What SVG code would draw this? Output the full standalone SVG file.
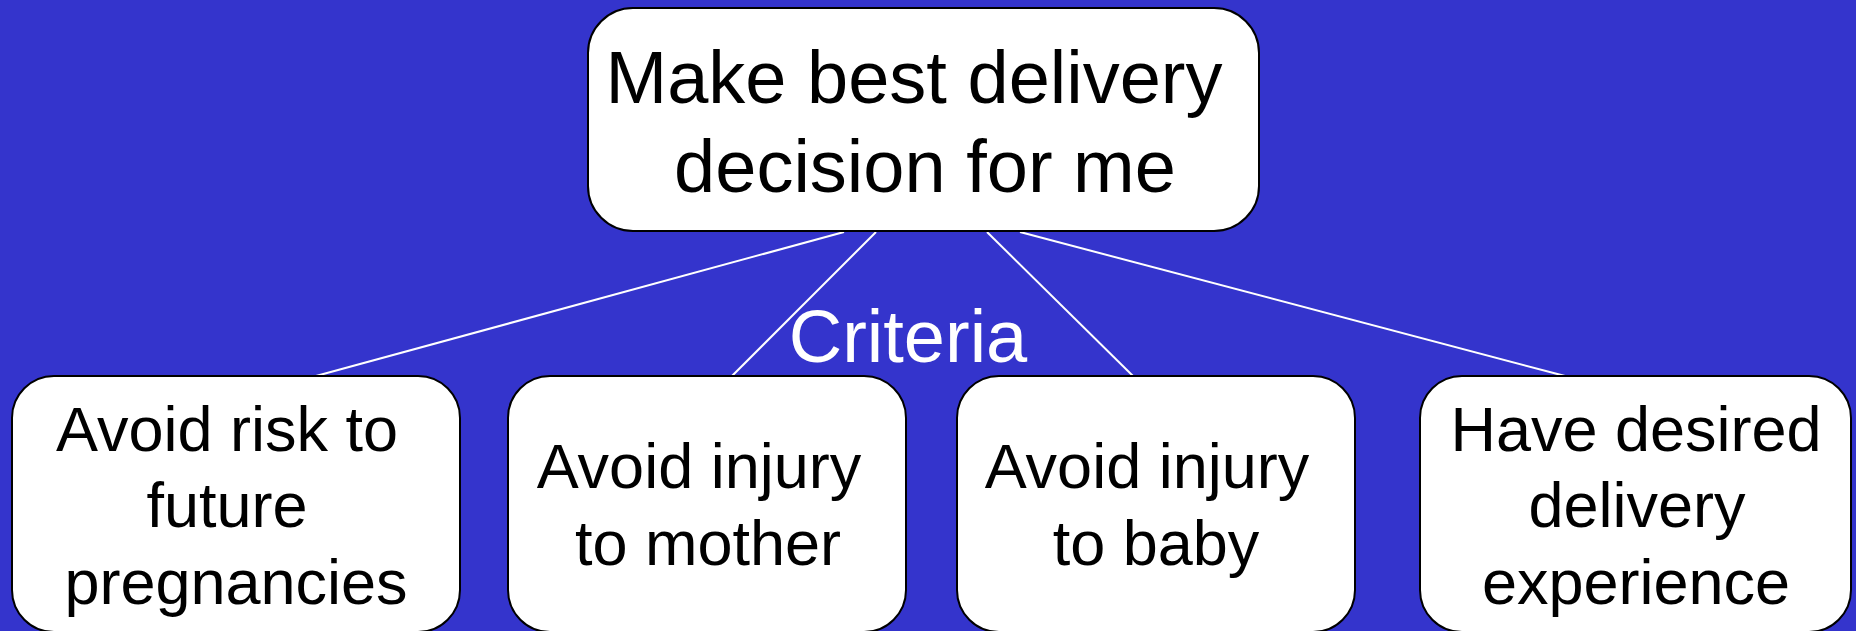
<svg xmlns="http://www.w3.org/2000/svg" width="1856" height="631" viewBox="0 0 1856 631">
  <style>
    .box { fill: #ffffff; stroke: #000000; stroke-width: 2; }
    .label { font-family: "Liberation Sans", Arial, sans-serif; fill: #000000; text-anchor: middle; }
    .top { font-size: 74px; }
    .leaf { font-size: 63px; }
    .link { stroke: #ffffff; stroke-width: 2; fill: none; }
    .caption { font-family: "Liberation Sans", Arial, sans-serif; font-size: 74px; fill: #ffffff; text-anchor: middle; }
  </style>
  <rect x="0" y="0" width="1856" height="631" fill="#3434CC"/>

  <g id="connectors">
    <line class="link" x1="844" y1="232" x2="316" y2="376"/>
    <line class="link" x1="876" y1="232" x2="732" y2="376"/>
    <line class="link" x1="987" y1="232" x2="1133" y2="376"/>
    <line class="link" x1="1020" y1="232" x2="1565" y2="376"/>
  </g>

  <text class="caption" x="908" y="362">Criteria</text>

  <g id="goal">
    <rect class="box" x="588" y="8" width="671" height="223" rx="45" ry="45"/>
    <text class="label top" x="914" y="103">Make best delivery</text>
    <text class="label top" x="925" y="192">decision for me</text>
  </g>

  <g id="future-pregnancies">
    <rect class="box" x="12" y="376" width="448" height="256" rx="42" ry="42"/>
    <text class="label leaf" x="227" y="451">Avoid risk to</text>
    <text class="label leaf" x="227" y="527">future</text>
    <text class="label leaf" x="236" y="604">pregnancies</text>
  </g>

  <g id="injury-mother">
    <rect class="box" x="508" y="376" width="398" height="256" rx="42" ry="42"/>
    <text class="label leaf" x="699" y="488">Avoid injury</text>
    <text class="label leaf" x="708" y="565">to mother</text>
  </g>

  <g id="injury-baby">
    <rect class="box" x="957" y="376" width="398" height="256" rx="42" ry="42"/>
    <text class="label leaf" x="1147" y="488">Avoid injury</text>
    <text class="label leaf" x="1156" y="565">to baby</text>
  </g>

  <g id="delivery-experience">
    <rect class="box" x="1420" y="376" width="431" height="256" rx="42" ry="42"/>
    <text class="label leaf" x="1636" y="451">Have desired</text>
    <text class="label leaf" x="1637" y="527">delivery</text>
    <text class="label leaf" x="1636" y="604">experience</text>
  </g>
</svg>
